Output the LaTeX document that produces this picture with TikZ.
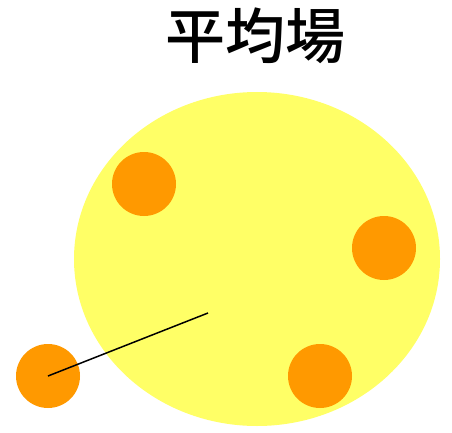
\documentclass[tikz,border=0pt]{standalone}
\usepackage{fontspec}
\newfontfamily\cjk{Noto Sans CJK JP Medium}
\definecolor{fieldyellow}{HTML}{FFFF66}
\definecolor{particle}{HTML}{FF9900}
\begin{document}
\begin{tikzpicture}[x=1pt,y=1pt,
  particlestyle/.style={circle,fill=particle,minimum size=64pt,inner sep=0pt}]
\useasboundingbox (0,0) rectangle (452,432);
\fill[fieldyellow] (257,173) ellipse [x radius=183, y radius=167];
\node[font=\cjk\fontsize{60}{62}\selectfont] (title) at (255,396) {平均場};
\node[particlestyle] (p1) at (144,248) {};
\node[particlestyle] (p2) at (384,184) {};
\node[particlestyle] (p3) at (320,56) {};
\node[particlestyle] (p4) at (48,56) {};
\coordinate (c) at (208,119);
\draw[line width=1.5pt] (p4.center) -- (c);
\end{tikzpicture}
\end{document}
